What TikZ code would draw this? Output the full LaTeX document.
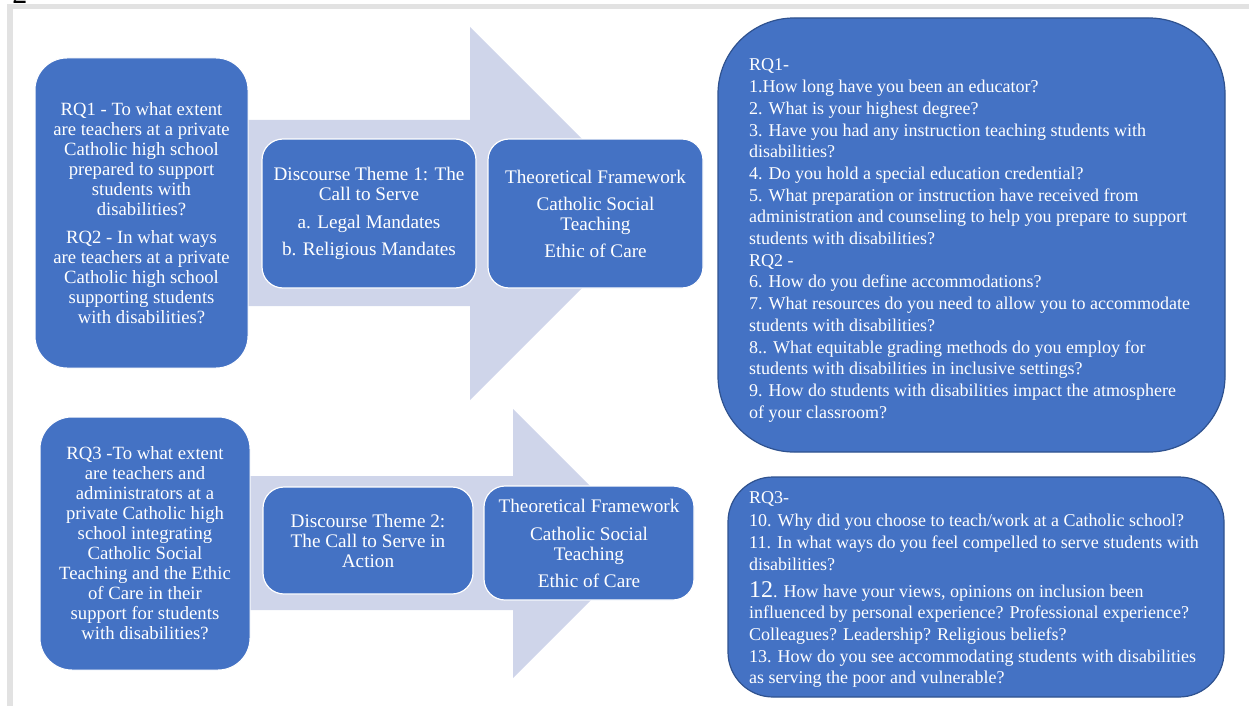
\documentclass[tikz,border=0pt]{standalone}
\usepackage{fontspec}
\setmainfont{Liberation Serif}
\definecolor{boxblue}{HTML}{4472C4}
\definecolor{boxedge}{HTML}{2F528F}
\definecolor{arrowfill}{HTML}{CFD5EA}
\definecolor{framegray}{HTML}{E2E2E2}
\tikzset{
  rqbox/.style={fill=boxblue, draw=white, line width=1pt, rounded corners=32pt, text=white, align=center, inner sep=0pt, font=\fontsize{18.7}{20}\selectfont},
  midbox/.style={fill=boxblue, draw=white, line width=1.2pt, rounded corners=21pt, text=white, align=center, inner sep=0pt, font=\fontsize{19.2}{20}\selectfont},
  qbox/.style={fill=boxblue, draw=boxedge, line width=1.2pt, inner sep=0pt},
  qtext/.style={text=white, align=left, inner sep=0pt, anchor=west, font=\fontsize{18}{21.7}\selectfont},
  bigarrow/.style={fill=arrowfill, draw=none}
}
\begin{document}
\begin{tikzpicture}[x=1pt,y=-1pt]
\useasboundingbox (0,0) rectangle (1249,706);
% screenshot frame
\fill[framegray] (7,4) rectangle (1249,9.5);
\fill[framegray] (7,4) rectangle (12.5,706);
\node[anchor=base, inner sep=0pt, font=\fontsize{30}{30}\selectfont] (pagenum) at (20,4) {2};
% big arrows
\fill[bigarrow] (240,120) -- (470,120) -- (470,27) -- (656.5,213.5) -- (470,400) -- (470,306) -- (240,306) -- cycle;
\fill[bigarrow] (240,476) -- (513,476) -- (513,409) -- (647.5,543.5) -- (513,678) -- (513,610) -- (240,610) -- cycle;
% left boxes
\node[rqbox, minimum width=213pt, minimum height=310pt] (rq12) at (141.5,213) {RQ1 - To what extent\\are teachers at a private\\Catholic high school\\prepared to support\\students with\\disabilities?\\[8pt]RQ2 - In what ways\\are teachers at a private\\Catholic high school\\supporting students\\with disabilities?};
\node[rqbox, minimum width=210pt, minimum height=253pt] (rq3) at (145,543.5) {RQ3 -To what extent\\are teachers and\\administrators at a\\private Catholic high\\school integrating\\Catholic Social\\Teaching and the Ethic\\of Care in their\\support for students\\with disabilities?};
% middle boxes
\node[midbox, minimum width=214pt, minimum height=149pt] (dt1) at (369,213.5) {Discourse Theme 1: The\\Call to Serve\\[8pt]a. Legal Mandates\\[7pt]b. Religious Mandates};
\node[midbox, minimum width=215pt, minimum height=149pt] (tf1) at (595.5,213.5) {Theoretical Framework\\[7pt]Catholic Social\\Teaching\\[7pt]Ethic of Care};
\node[midbox, minimum width=210pt, minimum height=107pt] (dt2) at (368,540.5) {Discourse Theme 2:\\The Call to Serve in\\Action};
\node[midbox, minimum width=210pt, minimum height=114pt] (tf2) at (589,543) {Theoretical Framework\\[8pt]Catholic Social\\Teaching\\[7pt]Ethic of Care};
% right boxes
\node[qbox, rounded corners=76pt, minimum width=507pt, minimum height=434pt] (q12) at (971.5,235) {};
\node[qtext] (q12t) at (749,240.5) {RQ1-\\1.How long have you been an educator?\\2. What is your highest degree?\\3. Have you had any instruction teaching students with\\disabilities?\\4. Do you hold a special education credential?\\5. What preparation or instruction have received from\\administration and counseling to help you prepare to support\\students with disabilities?\\RQ2 -\\6. How do you define accommodations?\\7. What resources do you need to allow you to accommodate\\students with disabilities?\\8.. What equitable grading methods do you employ for\\students with disabilities in inclusive settings?\\9. How do students with disabilities impact the atmosphere\\of your classroom?};
\node[qbox, rounded corners=45pt, minimum width=496pt, minimum height=220pt] (q3) at (976,587) {};
\node[qtext] (q3t) at (749,589.5) {RQ3-\\[2pt]10. Why did you choose to teach/work at a Catholic school?\\11. In what ways do you feel compelled to serve students with\\disabilities?\\[5pt]{\fontsize{24}{21.7}\selectfont 12}. How have your views, opinions on inclusion been\\influenced by personal experience? Professional experience?\\Colleagues? Leadership? Religious beliefs?\\13. How do you see accommodating students with disabilities\\as serving the poor and vulnerable?};
\end{tikzpicture}
\end{document}
